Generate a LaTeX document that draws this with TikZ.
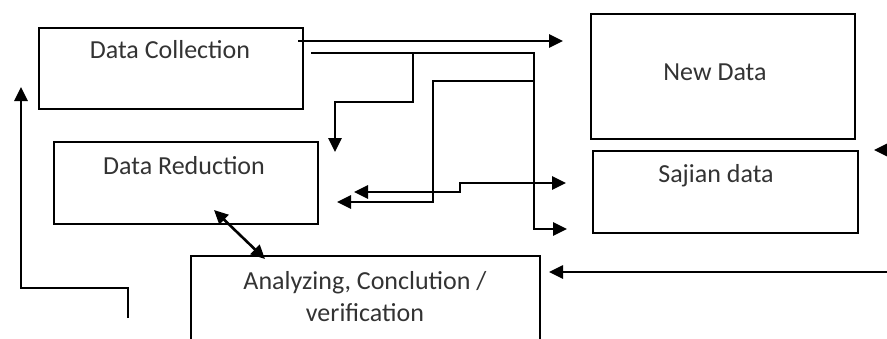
\documentclass[tikz,border=0pt]{standalone}
\usepackage{fontspec}
\setmainfont{Carlito}
\usetikzlibrary{arrows.meta,positioning,calc}
\tikzset{
  every picture/.style={font=\fontsize{26}{32}\selectfont},
  box/.style={draw,line width=2pt,inner sep=0pt,anchor=north west},
  lbl/.style={text=black!80,align=center,inner sep=0pt},
  flow/.style={line width=2.6pt,-{Triangle[length=14pt,width=13pt]}},
  both/.style={line width=2.6pt,{Triangle[length=14pt,width=13pt]}-{Triangle[length=14pt,width=13pt]}},
}
\begin{document}
\begin{tikzpicture}[x=1pt,y=-1pt]
  \clip (0,0) rectangle (887,338);
  % boxes
  \node[box,minimum width=264pt,minimum height=81pt] (dc) at (38,27) {};
  \node[lbl] (dclbl) at (170,50) {Data Collection};
  \node[box,minimum width=264pt,minimum height=82pt] (dr) at (53,141) {};
  \node[lbl] (drlbl) at (184,166) {Data Reduction};
  \node[box,minimum width=349pt,minimum height=100pt] (an) at (190,255) {};
  \node[lbl] (anlbl) at (365,297) {Analyzing, Conclution /\\verification};
  \node[box,minimum width=264pt,minimum height=125pt] (nd) at (590,13) {};
  \node[lbl] (ndlbl) at (715,72) {New Data};
  \node[box,minimum width=265pt,minimum height=82pt] (sd) at (592,150) {};
  \node[lbl] (sdlbl) at (716,176) {Sajian data};
  % free ends
  \coordinate (c1) at ($(dc.north east)+(-6,14)$);
  \coordinate (c2) at ($(dc.north east)+(7,26)$);
  \coordinate (t1) at (563,41);
  \coordinate (t2) at (567,229);
  \coordinate (t3) at (335,152);
  \coordinate (t4) at (337,202);
  \coordinate (t5) at (354,192);
  \coordinate (t6) at (566,183);
  \coordinate (r1) at (890,272);
  \coordinate (r2) at (890,150);
  \coordinate (l1) at (128,318);
  % connectors
  \draw[flow] (c1) -- (t1);
  \draw[flow] (c2) -- (534,53) -- (534,229) -- (t2);
  \draw[flow] (413,53) -- (413,102) -- (335,102) -- (t3);
  \draw[flow] (534,81) -- (433,81) -- (433,202) -- (t4);
  \draw[both] (t5) -- (460,192) -- (460,183) -- (t6);
  \draw[both] ($(dr.south)+(28,-15)$) -- ($(an.north west)+(75,4)$);
  \draw[flow] (r1) -- ($(an.east |- r1)+(8,0)$);
  \draw[flow] (r2) -- ($(sd.east |- r2)+(15,0)$);
  \draw[flow] (l1) -- (128,288) -- (21,288) -- (21,87);
\end{tikzpicture}
\end{document}
